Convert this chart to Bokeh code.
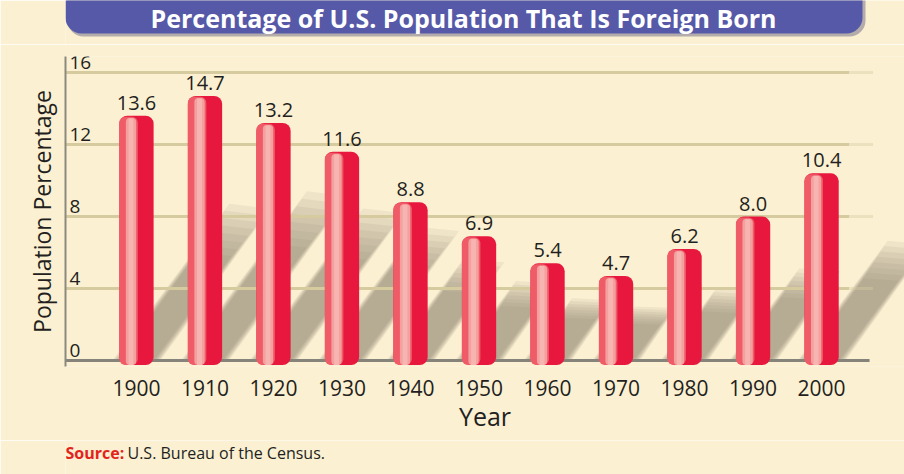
from bokeh.plotting import figure
from bokeh.models import Range1d, FixedTicker
from bokeh.layouts import column
from bokeh.core.properties import value
from bokeh.embed import file_html
from bokeh.resources import INLINE

# ---- data ----
years = [1900, 1910, 1920, 1930, 1940, 1950, 1960, 1970, 1980, 1990, 2000]
percent = [13.6, 14.7, 13.2, 11.6, 8.8, 6.9, 5.4, 4.7, 6.2, 8.0, 10.4]
value_labels = ["13.6", "14.7", "13.2", "11.6", "8.8", "6.9", "5.4", "4.7", "6.2", "8.0", "10.4"]
y_ticks = [0, 4, 8, 12, 16]
y_tick_labels = ["0", "4", "8", "12", "16"]
title_text = "Percentage of U.S. Population That Is Foreign Born"
source_head = "Source:"
source_text = "U.S. Bureau of the Census."

FONT = "Open Sans"
CREAM = "#FBF0D2"
INK = "#231F20"
W = 904
LEFT = 65


def deco_fig(h):
    f = figure(width=W, height=h, x_range=Range1d(LEFT, W), y_range=Range1d(h, 0),
               output_backend="svg", toolbar_location=None, min_border=0,
               min_border_left=LEFT, x_axis_location=None, y_axis_location=None)
    f.background_fill_color = CREAM
    f.border_fill_color = CREAM
    f.outline_line_color = None
    f.xgrid.visible = False
    f.ygrid.visible = False
    return f


# ---- title banner ----
TOP_H = 44
top = deco_fig(TOP_H)
top.quad(left=[67], right=[865], top=[-20], bottom=[36], fill_color="#2E2F60",
         fill_alpha=0.35, line_color=None, border_radius=16)
top.quad(left=[LEFT], right=[862], top=[-20], bottom=[33], fill_color="#5659A7",
         line_color=None, border_radius=16)
top.text(x=[463], y=[17.5], text=[title_text], text_align="center", text_baseline="middle",
         text_font=value(FONT), text_font_style="bold", text_font_size="25px",
         text_color="white")

# ---- main chart ----
MAIN_H = 396
X0, X1 = 1889.64, 2012.1
Y0, Y1 = -0.33, 16.89

p = figure(width=W, height=MAIN_H, x_range=Range1d(X0, X1), y_range=Range1d(Y0, Y1),
           output_backend="svg", toolbar_location=None,
           min_border_left=LEFT, min_border_right=0, min_border_top=12, min_border_bottom=74)
p.background_fill_color = CREAM
p.border_fill_color = CREAM
p.outline_line_color = None
p.xgrid.visible = False
p.ygrid.visible = False

xa = p.xaxis[0]
xa.ticker = FixedTicker(ticks=years)
xa.axis_line_color = None
xa.major_tick_line_color = None
xa.minor_tick_line_color = None
xa.major_label_standoff = 7
xa.major_label_text_font = FONT
xa.major_label_text_font_size = "21px"
xa.major_label_text_color = INK
xa.axis_label = "Year"
xa.axis_label_text_font = FONT
xa.axis_label_text_font_size = "25px"
xa.axis_label_text_font_style = "normal"
xa.axis_label_text_color = INK
xa.axis_label_standoff = 0

ya = p.yaxis[0]
ya.ticker = FixedTicker(ticks=[])
ya.axis_line_color = "#8C8A7E"
ya.axis_line_width = 2
ya.major_tick_line_color = None
ya.minor_tick_line_color = None
ya.axis_label = "Population Percentage"
ya.axis_label_text_font = FONT
ya.axis_label_text_font_size = "23px"
ya.axis_label_text_font_style = "normal"
ya.axis_label_text_color = INK
ya.axis_label_standoff = 8

# soft shadows cast diagonally by the bars (many thin layers fake a blur)
half = 2.5
n_layers = 8
for k in range(n_layers):
    t = k / (n_layers - 1)
    frac = 0.64 - 0.2 * t
    grow = 1.0 - 1.0 * t
    xs, ys = [], []
    for yr, v in zip(years, percent):
        hh = v * frac
        dx = hh * 1.9
        xs.append([yr - half - grow, yr + half + grow, yr + half + dx + grow * 0.5,
                   yr - half + dx - grow * 0.5])
        ys.append([0, 0, hh * 0.97, hh])
    p.patches(xs, ys, fill_color="#85816F", fill_alpha=0.1, line_color=None)

# gridlines
g_ticks = [t for t in y_ticks if t > 0]
n = len(g_ticks)
p.segment(x0=[X0] * n, y0=g_ticks, x1=[2004.0] * n, y1=g_ticks,
          line_color="#D6CB9F", line_width=3)
p.segment(x0=[2004.0] * n, y0=g_ticks, x1=[2007.5] * n, y1=g_ticks,
          line_color="#D6CB9F", line_width=3, line_alpha=0.4)
p.segment(x0=[X0], y0=[0], x1=[2007.0], y1=[0], line_color="#86847A", line_width=3)

# y tick labels inside the plot, sitting above their gridlines
p.text(x=[X0] * len(y_ticks), y=y_ticks, text=y_tick_labels, x_offset=4, y_offset=-10,
       text_align="left", text_baseline="middle", text_font=value(FONT),
       text_font_size="19px", text_color=INK)

# bars with a cylinder look
bottom = -0.25
p.vbar(x=years, top=percent, bottom=bottom, width=5, fill_color="#E8173E",
       line_color=None, border_radius=8)
p.vbar(x=[y - 1.15 for y in years], top=[v - 0.05 for v in percent], bottom=bottom, width=2.7,
       fill_color="#EF5C68", line_color=None, border_radius=6)
p.vbar(x=[y - 0.8 for y in years], top=[v - 0.12 for v in percent], bottom=bottom, width=1.5,
       fill_color="#F4A09F", line_color=None, border_radius=4)
p.vbar(x=[y - 0.8 for y in years], top=[v - 0.15 for v in percent], bottom=bottom, width=0.7,
       fill_color="#F7B5B2", line_color=None)

# value labels
p.text(x=years, y=percent, text=value_labels, y_offset=-13, text_align="center",
       text_baseline="middle", text_font=value(FONT), text_font_size="20px",
       text_color=INK)

# ---- source line ----
BOT_H = 474 - TOP_H - MAIN_H
bot = deco_fig(BOT_H)
bot.text(x=[LEFT], y=[12], text=[source_head], text_align="left", text_baseline="middle",
         text_font=value(FONT), text_font_style="bold", text_font_size="16px",
         text_color="#E2231A")
bot.text(x=[127], y=[12], text=[source_text], text_align="left", text_baseline="middle",
         text_font=value(FONT), text_font_size="16px", text_color=INK)

layout = column(top, p, bot, spacing=0)
open("out.html", "w").write(file_html(layout, INLINE))
